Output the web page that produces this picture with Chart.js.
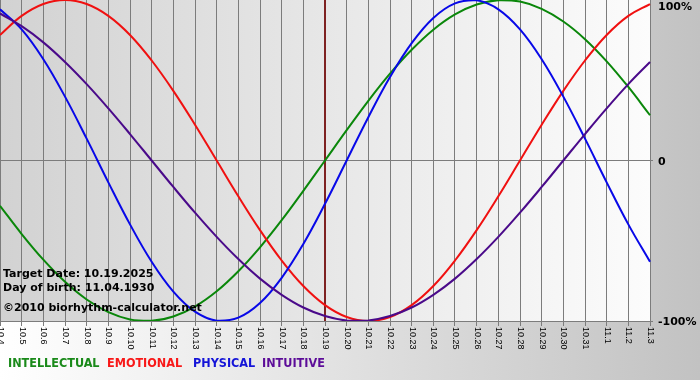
<!DOCTYPE html>
<html><head><meta charset="utf-8">
<script src="https://cdn.jsdelivr.net/npm/chart.js@4/dist/chart.umd.min.js"></script>
<style>html,body{margin:0;padding:0;background:#fff;overflow:hidden}canvas{display:block}</style>
</head><body>
<canvas id="c" width="700" height="380"></canvas>
<script>
// ---- data ----
const dayLabels = ['10.4','10.5','10.6','10.7','10.8','10.9','10.10','10.11','10.12','10.13','10.14','10.15','10.16','10.17','10.18','10.19','10.20','10.21','10.22','10.23','10.24','10.25','10.26','10.27','10.28','10.29','10.30','10.31','11.1','11.2','11.3'];
const intellectual = [-28.2,-45.8,-61.8,-75.6,-86.6,-94.5,-99.0,-99.9,-97.2,-91.0,-81.5,-69.0,-54.1,-37.2,-18.9,0,18.9,37.2,54.1,69.0,81.5,91.0,97.2,99.9,99.0,94.5,86.6,75.6,61.8,45.8,28.2];
const emotional = [78.2,90.1,97.5,100,97.5,90.1,78.2,62.3,43.4,22.3,0,-22.3,-43.4,-62.3,-78.2,-90.1,-97.5,-100,-97.5,-90.1,-78.2,-62.3,-43.4,-22.3,0,22.3,43.4,62.3,78.2,90.1,97.5];
const physical = [94.2,81.7,63.1,39.8,13.6,-13.6,-39.8,-63.1,-81.7,-94.2,-99.8,-97.9,-88.8,-73.1,-52.0,-27.0,0,27.0,52.0,73.1,88.8,97.9,99.8,94.2,81.7,63.1,39.8,13.6,-13.6,-39.8,-63.1];
const intuitive = [91.6,83.7,73.6,61.4,47.6,32.5,16.5,0,-16.5,-32.5,-47.6,-61.4,-73.6,-83.7,-91.6,-96.9,-99.7,-99.7,-96.9,-91.6,-83.7,-73.6,-61.4,-47.6,-32.5,-16.5,0,16.5,32.5,47.6,61.4];
const targetDay = '10.19';
const yTickValues = [100, 0, -100];
const yTickLabels = ['100%', '0', '-100%'];
const infoLines = ['Target Date: 10.19.2025', 'Day of birth: 11.04.1930', '\u00A92010 biorhythm-calculator.net'];
const legendNames = ['INTELLECTUAL', 'EMOTIONAL', 'PHYSICAL', 'INTUITIVE'];

// ---- styles ----
const lineColors = {INTELLECTUAL:'#0a870a', EMOTIONAL:'#f01010', PHYSICAL:'#0808e8', INTUITIVE:'#4a0a8a'};
const legendColors = {INTELLECTUAL:'#1a8a1a', EMOTIONAL:'#f81818', PHYSICAL:'#1414d8', INTUITIVE:'#5c0c98'};
const legendX = [8, 107, 193, 262];
const gridGray = '#7c7c7c';

const decor = {
  id: 'decor',
  beforeDraw(chart) {
    const {ctx, chartArea: a, width, height} = chart;
    ctx.save();
    let g = ctx.createLinearGradient(0, 0, width, 0);
    g.addColorStop(0, '#ffffff');
    g.addColorStop(1, '#c2c2c2');
    ctx.fillStyle = g;
    ctx.fillRect(0, 0, width, height);
    g = ctx.createLinearGradient(a.left, 0, a.right, 0);
    g.addColorStop(0, '#d2d2d2');
    g.addColorStop(1, '#fcfcfc');
    ctx.fillStyle = g;
    ctx.fillRect(a.left, a.top, a.right - a.left, a.bottom - a.top);
    ctx.restore();
  },
  beforeDatasetsDraw(chart) {
    const {ctx, chartArea: a, scales: {x}} = chart;
    const px = Math.round(x.getPixelForValue(dayLabels.indexOf(targetDay)));
    ctx.save();
    ctx.strokeStyle = '#7e2222';
    ctx.lineWidth = 2;
    ctx.beginPath();
    ctx.moveTo(px, a.top);
    ctx.lineTo(px, a.bottom);
    ctx.stroke();
    ctx.restore();
  },
  afterDraw(chart) {
    const {ctx, chartArea: a, scales: {x, y}} = chart;
    ctx.save();
    // x labels, rotated clockwise
    ctx.fillStyle = '#000';
    ctx.font = '9px "Liberation Sans", Arial, sans-serif';
    ctx.textAlign = 'left';
    ctx.textBaseline = 'middle';
    dayLabels.forEach((lab, i) => {
      const px = x.getPixelForValue(i);
      ctx.save();
      ctx.translate(px + 0.5, a.bottom + 6);
      ctx.rotate(Math.PI / 2);
      ctx.fillText(lab, 0, 0);
      ctx.restore();
    });
    // y labels on the right
    ctx.font = 'bold 11px "DejaVu Sans", Verdana, sans-serif';
    yTickValues.forEach((v, i) => {
      const py = Math.max(7, y.getPixelForValue(v) + 1.5);
      ctx.fillText(yTickLabels[i], a.right + 8, py);
    });
    // info text
    ctx.textBaseline = 'alphabetic';
    ctx.font = 'bold 11px "DejaVu Sans", Verdana, sans-serif';
    const infoY = [277, 291, 311];
    infoLines.forEach((t, i) => ctx.fillText(t, 3, infoY[i]));
    // legend
    ctx.font = 'bold 12.5px "DejaVu Sans Condensed", "DejaVu Sans", sans-serif';
    legendNames.forEach((n, i) => {
      ctx.fillStyle = legendColors[n];
      ctx.fillText(n, legendX[i], 366.5);
    });
    ctx.restore();
  }
};

const seriesMap = {INTELLECTUAL: intellectual, EMOTIONAL: emotional, PHYSICAL: physical, INTUITIVE: intuitive};
const drawOrder = ['INTUITIVE', 'PHYSICAL', 'EMOTIONAL', 'INTELLECTUAL'];

new Chart(document.getElementById('c'), {
  type: 'line',
  data: {
    labels: dayLabels,
    datasets: drawOrder.map(n => ({
      label: n,
      data: seriesMap[n],
      borderColor: lineColors[n],
      backgroundColor: lineColors[n],
      borderWidth: 2,
      pointRadius: 0,
      tension: 0.4,
      fill: false
    }))
  },
  options: {
    responsive: false,
    animation: false,
    devicePixelRatio: 1,
    layout: {padding: {left: 0, top: 0, right: 47, bottom: 54}},
    plugins: {legend: {display: false}, tooltip: {enabled: false}, title: {display: false}},
    scales: {
      x: {
        type: 'category',
        offset: false,
        ticks: {display: false, autoSkip: false},
        grid: {color: gridGray, lineWidth: 1, drawTicks: true, tickLength: 5, tickColor: gridGray},
        border: {display: true, color: gridGray}
      },
      y: {
        position: 'right',
        min: -100, max: 100,
        ticks: {display: false, stepSize: 100},
        grid: {
          color: (c) => (c.tick && c.tick.value === 100) ? 'rgba(0,0,0,0)' : gridGray,
          lineWidth: 1, drawTicks: true, tickLength: 3
        },
        border: {display: true, color: gridGray}
      }
    }
  },
  plugins: [decor]
});
</script>
</body></html>
